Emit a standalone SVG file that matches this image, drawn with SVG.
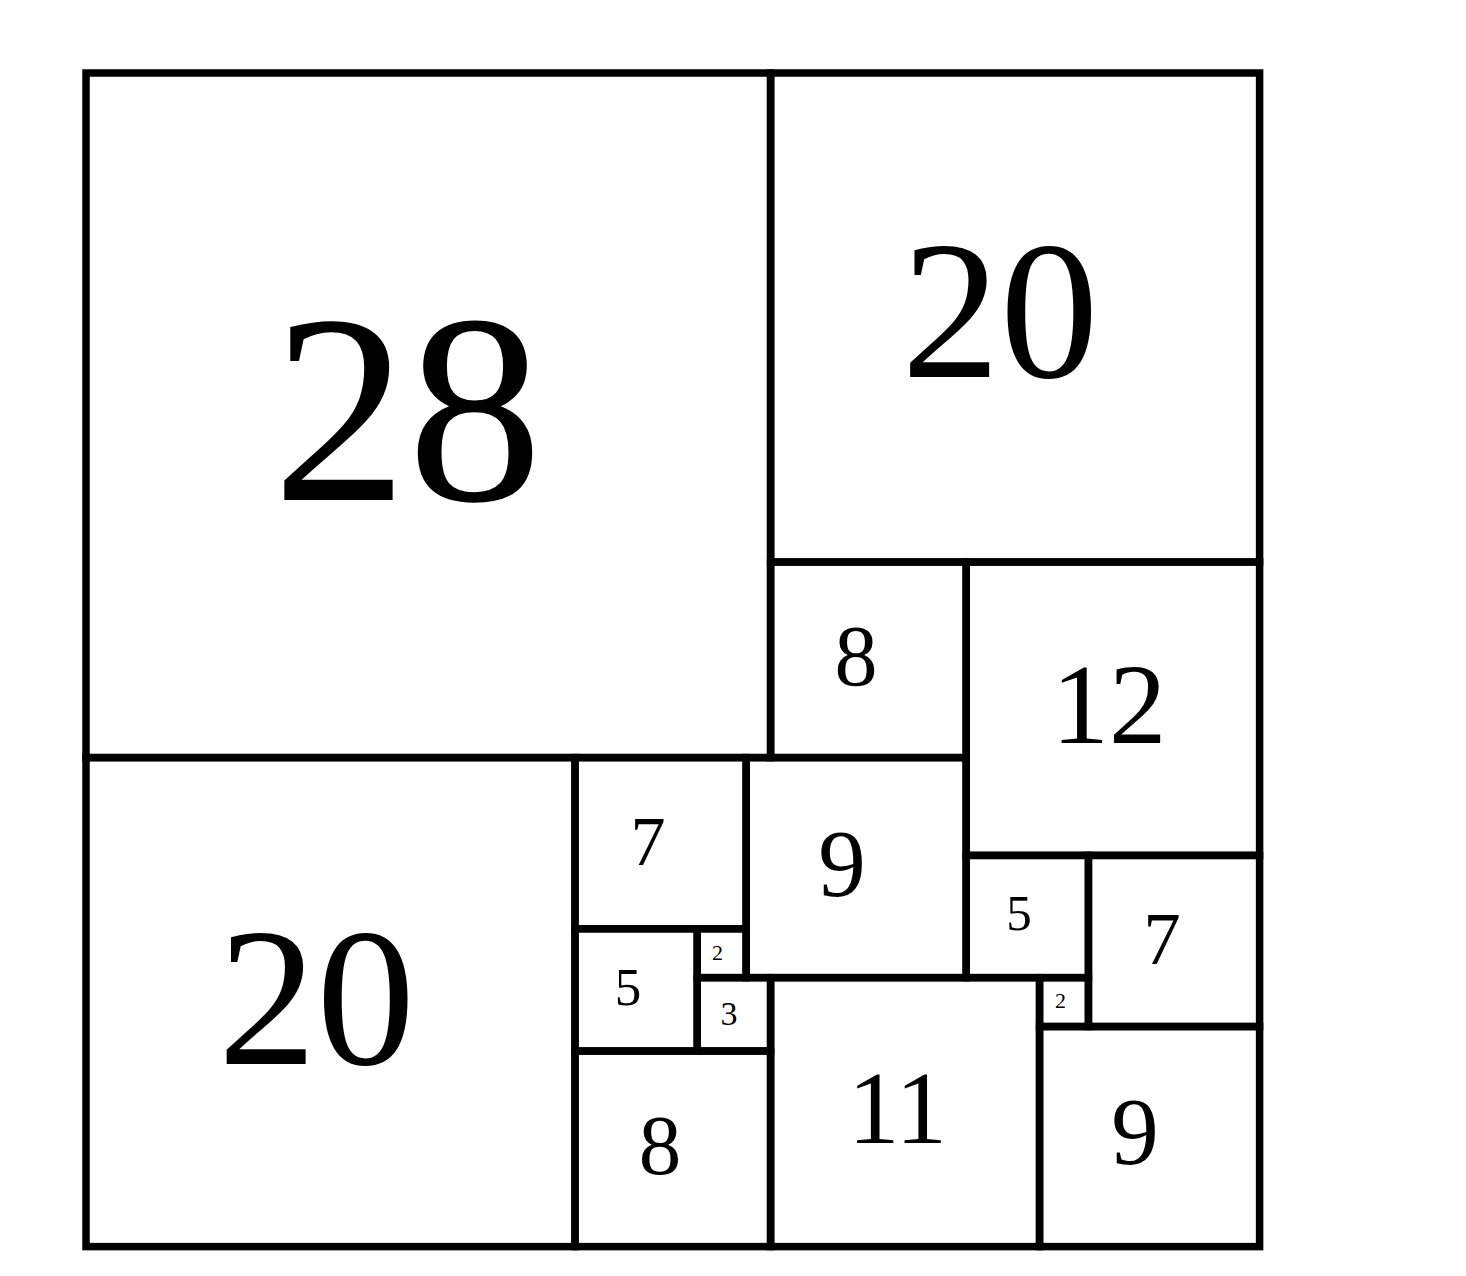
<svg xmlns="http://www.w3.org/2000/svg" width="1466" height="1276" viewBox="0 0 1466 1276">
<style>
.sq{fill:none;stroke:#000;stroke-width:7.5}
text{font-family:"Liberation Serif","Times New Roman",serif;fill:#000;text-anchor:middle}
</style>
<rect width="1466" height="1276" fill="#fff"/>
<g id="s28"><rect class="sq" x="86" y="73" width="684.6" height="684.6"/><text x="407.5" y="500" font-size="270">28</text></g>
<g id="s20a"><rect class="sq" x="770.6" y="73" width="489" height="489"/><text x="1000" y="377" font-size="197">20</text></g>
<g id="s8a"><rect class="sq" x="770.6" y="562" width="195.6" height="195.6"/><text x="856" y="685" font-size="86">8</text></g>
<g id="s12"><rect class="sq" x="966.2" y="562" width="293.4" height="293.4"/><text x="1109" y="743" font-size="115">12</text></g>
<g id="s20b"><rect class="sq" x="86" y="757.6" width="489" height="489"/><text x="316.5" y="1064" font-size="197">20</text></g>
<g id="s7a"><rect class="sq" x="575" y="757.6" width="171.15" height="171.15"/><text x="648" y="865" font-size="70">7</text></g>
<g id="s9a"><rect class="sq" x="746.15" y="757.6" width="220.05" height="220.05"/><text x="842" y="896" font-size="95">9</text></g>
<g id="s5a"><rect class="sq" x="575" y="928.75" width="122.25" height="122.25"/><text x="628" y="1005" font-size="53">5</text></g>
<g id="s2a"><rect class="sq" x="697.25" y="928.75" width="48.9" height="48.9"/><text x="717.5" y="960" font-size="22">2</text></g>
<g id="s3"><rect class="sq" x="697.25" y="977.65" width="73.35" height="73.35"/><text x="729" y="1025" font-size="34">3</text></g>
<g id="s8b"><rect class="sq" x="575" y="1051" width="195.6" height="195.6"/><text x="660" y="1174" font-size="85">8</text></g>
<g id="s11"><rect class="sq" x="770.6" y="977.65" width="268.95" height="268.95"/><text x="897.5" y="1143" font-size="103">11</text></g>
<g id="s5b"><rect class="sq" x="966.2" y="855.4" width="122.25" height="122.25"/><text x="1019" y="930" font-size="51">5</text></g>
<g id="s7b"><rect class="sq" x="1088.45" y="855.4" width="171.15" height="171.15"/><text x="1162" y="964" font-size="75">7</text></g>
<g id="s2b"><rect class="sq" x="1039.55" y="977.65" width="48.9" height="48.9"/><text x="1060.5" y="1008" font-size="22">2</text></g>
<g id="s9b"><rect class="sq" x="1039.55" y="1026.55" width="220.05" height="220.05"/><text x="1135" y="1164" font-size="95">9</text></g>
<g id="connectors"/>
</svg>
